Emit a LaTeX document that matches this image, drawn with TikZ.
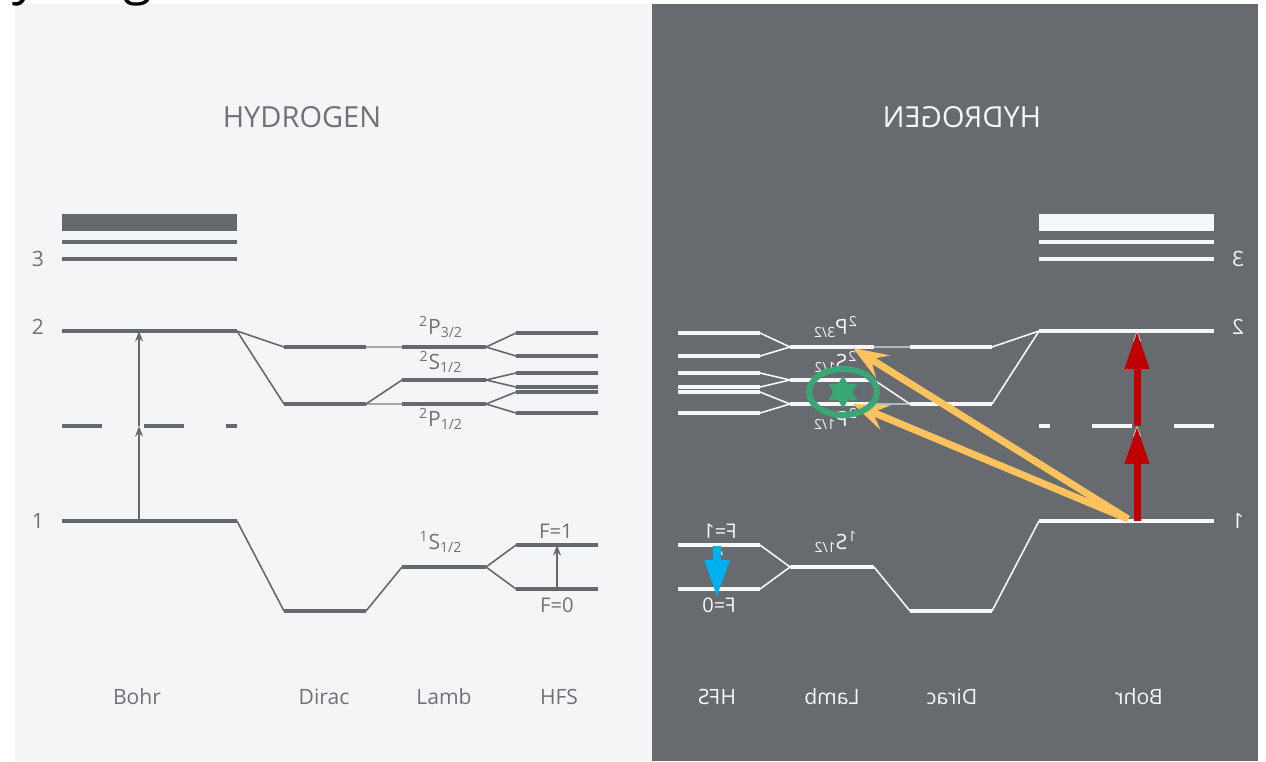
\documentclass[tikz,border=0pt]{standalone}
\usepackage{fontspec}
\setmainfont{Open Sans}
\usetikzlibrary{arrows.meta,shapes.geometric}

\definecolor{panellight}{HTML}{F4F5F7}
\definecolor{panelgrey}{HTML}{676B70}
\definecolor{levelgrey}{HTML}{65696D}
\definecolor{textgrey}{HTML}{6E7276}
\definecolor{levelwhite}{HTML}{F6F7F9}
\definecolor{excitered}{HTML}{C00000}
\definecolor{probeorange}{HTML}{FFC35E}
\definecolor{markgreen}{HTML}{3AA575}
\definecolor{decayblue}{HTML}{00B0F0}
\colorlet{lvl}{levelgrey}
\colorlet{txt}{textgrey}

% one level line, with end coordinates <name>l and <name>r
\newcommand{\lev}[4]{%
  \coordinate (#1l) at (#2,#4);
  \coordinate (#1r) at (#3,#4);
  \draw[level] (#1l) -- (#1r);}

% term scheme of one panel, #1 = x of the title
\newcommand{\hpanel}[1]{%
  \node[title] (title) at (#1,117) {HYDROGEN};
  % Bohr
  \fill[lvl] (62,214) rectangle (237,231);
  \lev{n3a}{62}{237}{242}
  \lev{n3}{62}{237}{259}
  \lev{n2}{62}{237}{331}
  \lev{n1}{62}{237}{521}
  \draw[level] (62,426) -- (102,426) (144,426) -- (184,426) (226,426) -- (237,426);
  \node[lbl] (k3) at (38,259) {3};
  \node[lbl] (k2) at (38,327) {2};
  \node[lbl] (k1) at (38,521) {1};
  \coordinate (a1) at (139,521);
  \coordinate (a2) at (139,426);
  \coordinate (a3) at (139,331);
  \draw[jump] (a1) -- (a2);
  \draw[jump] (a2) -- (a3);
  % Dirac
  \lev{d2p}{284}{366}{347}
  \lev{d2s}{284}{366}{404}
  \lev{d1s}{284}{366}{611}
  \draw[link] (n2r) -- (d2pl);
  \draw[link] (n2r) -- (d2sl);
  \draw[link] (n1r) -- (d1sl);
  % Lamb
  \lev{l2p3}{402}{486}{347}
  \lev{l2s}{402}{486}{380}
  \lev{l2p1}{402}{486}{404}
  \lev{l1s}{402}{486}{567}
  \draw[faint] (d2pr) -- (l2p3l);
  \draw[link] (d2sr) -- (l2sl);
  \draw[faint] (d2sr) -- (l2p1l);
  \draw[link] (d1sr) -- (l1sl);
  \node[lbl] (p32) at (441,327) {\textsuperscript{2}P\textsubscript{3/2}};
  \node[lbl] (s12) at (441,362) {\textsuperscript{2}S\textsubscript{1/2}};
  \node[lbl] (p12) at (441,419) {\textsuperscript{2}P\textsubscript{1/2}};
  \node[lbl] (g12) at (441,542) {\textsuperscript{1}S\textsubscript{1/2}};
  % HFS
  \lev{h1}{516}{598}{333}
  \lev{h2}{516}{598}{356}
  \lev{h3}{516}{598}{373}
  \lev{h4}{516}{598}{387}
  \lev{h5}{516}{598}{392}
  \lev{h6}{516}{598}{413}
  \lev{hf1}{516}{598}{545}
  \lev{hf0}{516}{598}{589}
  \draw[link] (l2p3r) -- (h1l);
  \draw[link] (l2p3r) -- (h2l);
  \draw[link] (l2sr) -- (h3l);
  \draw[link] (l2sr) -- (h4l);
  \draw[link] (l2p1r) -- (h5l);
  \draw[link] (l2p1r) -- (h6l);
  \draw[link] (l1sr) -- (hf1l);
  \draw[link] (l1sr) -- (hf0l);
  \coordinate (f0) at (557,589);
  \coordinate (f1) at (557,545);
  \draw[jump] (f0) -- (f1);
  \node[flbl] (F1) at (556,531) {F=1};
  \node[flbl] (F0) at (557,605) {F=0};
  % columns
  \node[lbl] (bohr) at (137,697) {Bohr};
  \node[lbl] (dirac) at (324,697) {Dirac};
  \node[lbl] (lamb) at (444,697) {Lamb};
  \node[lbl] (hfs) at (559,697) {HFS};
}

\begin{document}
\begin{tikzpicture}[x=0.02cm,y=-0.02cm,
    level/.style={draw=lvl,line width=2.3pt},
    link/.style={draw=lvl,line width=0.9pt},
    faint/.style={draw=lvl,line width=0.7pt,draw opacity=0.55},
    jump/.style={draw=lvl,line width=0.9pt,-{Stealth[length=6pt,width=4.5pt]}},
    lbl/.style={text=txt,inner sep=1pt,transform shape,font=\fontsize{12}{14}\selectfont},
    flbl/.style={lbl,font=\fontsize{11.5}{13}\selectfont},
    title/.style={lbl,font=\fontsize{16.5}{19}\selectfont},
    redarrow/.style={draw=excitered,line width=4pt,-{Triangle[length=21.5pt,width=13pt]}},
    orangearrow/.style={draw=probeorange,line width=4pt,-{Stealth[length=20pt,width=15pt,inset=8pt]}},
    bluearrow/.style={draw=decayblue,line width=4.5pt,-{Triangle[length=21.5pt,width=13pt]}}]
  \useasboundingbox (0,0) rectangle (1266,761);
  \clip (0,0) rectangle (1266,761);
  \fill[white] (0,0) rectangle (1266,761);
  \fill[panellight] (15,4) rectangle (652,761);
  \fill[panelgrey] (652,4) rectangle (1258,761);
  \node[anchor=base west,inner sep=0,font=\fontsize{30}{36}\selectfont] (heading) at (-27,-7) {Hydrogen};

  \hpanel{302}
  % mirrored copy
  \begin{scope}[shift={(1276,0)},xscale=-1,name prefix=R-]
    \colorlet{lvl}{levelwhite}
    \colorlet{txt}{levelwhite}
    \hpanel{314}
  \end{scope}

  % marks on the mirrored panel
  \coordinate (src) at (1128,519);
  \coordinate (tipA) at (853,348);
  \coordinate (tipB) at (853,404);
  \draw[orangearrow] (src) -- (tipA);
  \draw[orangearrow] (src) -- (tipB);
  \draw[redarrow] (R-a1) -- (R-a2);
  \draw[redarrow] (R-a2) -- (R-a3);
  \draw[markgreen,line width=3.4pt] (843,392) ellipse [x radius=34,y radius=23];
  \node[star,star points=6,star point ratio=1.73,fill=markgreen,inner sep=0,minimum size=0.66cm] (star) at (843,392) {};
  \coordinate (bt) at (717,546);
  \coordinate (bb) at (717,598);
  \draw[bluearrow] (bt) -- (bb);
\end{tikzpicture}
\end{document}
